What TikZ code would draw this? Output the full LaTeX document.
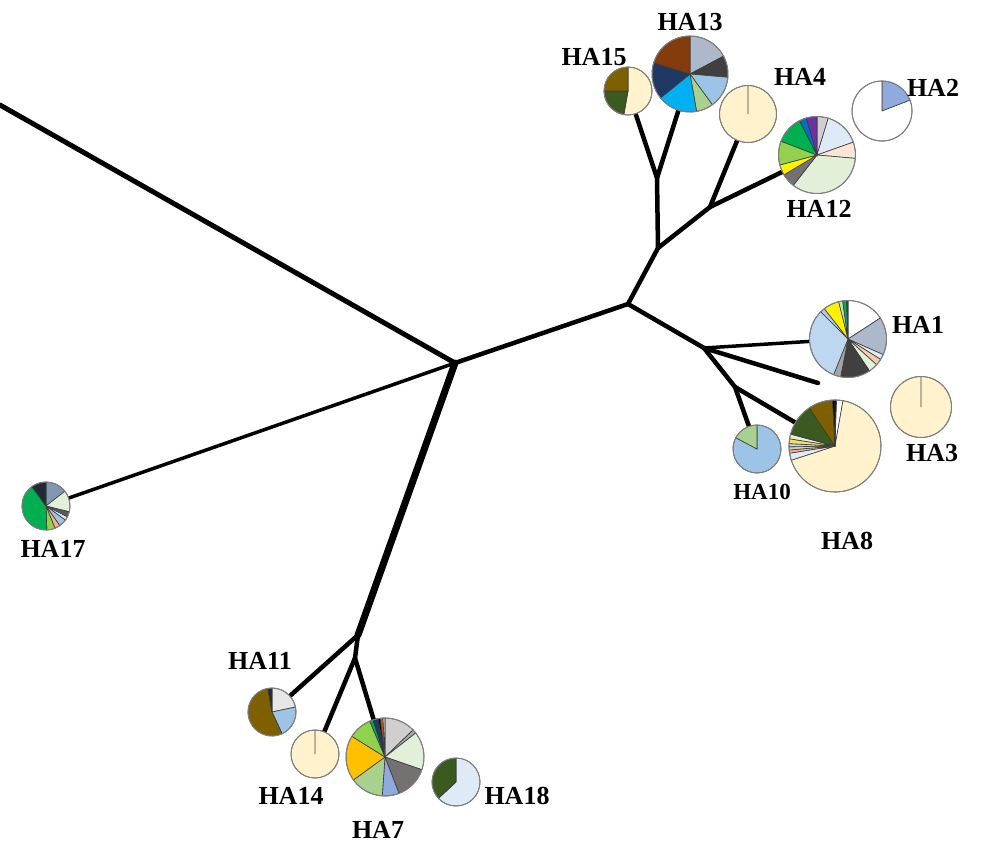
\documentclass[tikz,border=0pt]{standalone}
\usepackage{fontspec}
\setmainfont{Liberation Serif}
\usetikzlibrary{positioning, calc}

\definecolor{cream}{HTML}{FFF2CC}
\definecolor{olive}{HTML}{7F6000}
\definecolor{dkgreen}{HTML}{3B5A1F}
\definecolor{bgray}{HTML}{ADB9CA}
\definecolor{dgray}{HTML}{404040}
\definecolor{lblue}{HTML}{9DC3E6}
\definecolor{lgreen}{HTML}{A9D18E}
\definecolor{cyanb}{HTML}{00B0F0}
\definecolor{navy}{HTML}{203864}
\definecolor{rust}{HTML}{843C0C}
\definecolor{pblue}{HTML}{8FAADC}
\definecolor{lgray}{HTML}{D0CECE}
\definecolor{paleblue}{HTML}{DEEBF7}
\definecolor{peach}{HTML}{FBE5D6}
\definecolor{peachb}{HTML}{F8CBAD}
\definecolor{peachc}{HTML}{F4B183}
\definecolor{palegreen}{HTML}{E2F0D9}
\definecolor{mgray}{HTML}{767171}
\definecolor{ygreen}{HTML}{92D050}
\definecolor{vgreen}{HTML}{00B050}
\definecolor{dblue}{HTML}{0070C0}
\definecolor{violet}{HTML}{7030A0}
\definecolor{sblue}{HTML}{BDD7EE}
\definecolor{tblue}{HTML}{B4C7E7}
\definecolor{ggray}{HTML}{A5A5A5}
\definecolor{gold}{HTML}{FFC000}
\definecolor{goldb}{HTML}{FFD966}
\definecolor{slate}{HTML}{8497B0}
\definecolor{dnavy}{HTML}{222A35}
\definecolor{pgray}{HTML}{E7E6E6}
\definecolor{sgray}{HTML}{595959}
\definecolor{paleolive}{HTML}{C5E0B4}
\definecolor{orng}{HTML}{C55A11}
\definecolor{sep}{HTML}{3A3A3A}
\definecolor{rimgray}{HTML}{808080}

\newcommand{\drawpie}[3]{%
  \foreach \s/\e/\col in {#3}
    \filldraw[slice, fill=\col] (#1.center) -- ++(\s:#2) arc[start angle=\s, end angle=\e, radius=#2] -- cycle;
  \draw[rim] (#1.center) circle[radius=#2];
}

\begin{document}
\begin{tikzpicture}[x=1pt, y=-1pt,
    branch/.style={line width=4.5pt, line cap=round, line join=round},
    trunk/.style={line width=7pt, line cap=round},
    twig/.style={line width=3.5pt, line cap=round},
    pie/.style={circle, inner sep=0pt, minimum size=#1},
    slice/.style={draw=sep, line width=0.6pt},
    rim/.style={draw=rimgray, line width=1pt},
    lbl/.style={inner sep=0pt, font=\fontsize{26}{30}\selectfont\bfseries}
  ]
  \useasboundingbox (0,0) rectangle (983,844);

  % junctions
  \coordinate (top) at (0,105);
  \coordinate (c0) at (455,363);
  \coordinate (jLow) at (358,635);
  \coordinate (jLow2) at (355,658);
  \coordinate (jR) at (628,304);
  \coordinate (jU) at (658,248);
  \coordinate (jU2) at (657,178);
  \coordinate (jU3) at (710,207);
  \coordinate (jD) at (704,348);
  \coordinate (jD2) at (735,387);
  \coordinate (end3) at (818,383);

  % pies
  \node[pie=48pt] (HA15) at (628,91) {};
  \node[pie=76pt] (HA13) at (690,74) {};
  \node[pie=57pt] (HA4) at (748,114) {};
  \node[pie=60pt] (HA2) at (882,111) {};
  \node[pie=77pt] (HA12) at (817,155) {};
  \node[pie=77pt] (HA1) at (848,339) {};
  \node[pie=61pt] (HA3) at (921,407) {};
  \node[pie=92pt] (HA8) at (835,446) {};
  \node[pie=48pt] (HA10) at (757,449) {};
  \node[pie=48pt] (HA17) at (46,506) {};
  \node[pie=48pt] (HA11) at (272,712) {};
  \node[pie=48pt] (HA14) at (315,754) {};
  \node[pie=78pt] (HA7) at (385,757) {};
  \node[pie=48pt] (HA18) at (456,782) {};

  % branches
  \draw[branch, line width=5pt] (top) -- (c0);
  \draw[twig] (c0) -- (HA17);
  \draw[trunk] (c0) -- (jLow);
  \draw[branch] (jLow) -- (HA11);
  \draw[branch] (jLow) -- (jLow2) -- (HA14);
  \draw[branch] (jLow2) -- (HA7);
  \draw[branch] (c0) -- (jR);
  \draw[branch] (jR) -- (jU) -- (jU2) -- (HA15);
  \draw[branch] (jU2) -- (HA13);
  \draw[branch] (jU) -- (jU3) -- (HA4);
  \draw[branch] (jU3) -- (HA12);
  \draw[branch] (jR) -- (jD);
  \draw[twig] (jD) -- (HA1);
  \draw[branch] (jD) -- (end3);
  \draw[branch] (jD) -- (jD2) -- (HA10);
  \draw[branch] (jD2) -- (HA8);

  % slices
  \drawpie{HA15}{24pt}{90/-100/cream, -100/-180/dkgreen, -180/-270/olive}
  \drawpie{HA13}{38pt}{90/28/bgray, 28/-5/dgray, -5/-54/lblue, -54/-80/lgreen,
    -80/-141/cyanb, -141/-197/navy, -197/-270/rust}
  \drawpie{HA4}{28.5pt}{90/-270/cream}
  \drawpie{HA2}{30pt}{90/21/pblue, 21/-270/white}
  \drawpie{HA12}{38.5pt}{90/73/lgray, 73/19.5/paleblue, 19.5/-5/peach, -5/-128/palegreen,
    -128/-149/mgray, -149/-165/yellow, -165/-201/ygreen, -201/-243/vgreen,
    -243/-254/dblue, -254/-270/violet}
  \drawpie{HA1}{38.5pt}{90/33/white, 33/-24/bgray, -24/-32/paleblue, -32/-42/peachb,
    -42/-56/palegreen, -56/-101/dgray, -101/-112/ggray, -112/-225/sblue,
    -225/-232/tblue, -232/-256/yellow, -256/-262/paleolive, -262/-268/vgreen, -268/-270/dgray}
  \drawpie{HA3}{30.5pt}{90/-270/cream}
  \drawpie{HA8}{46pt}{90/88/black, 88/80/white, 80/-162/cream, -162/-171/paleblue,
    -171/-175/peachc, -175/-179/lgray, -179/-183/sblue, -183/-189/goldb,
    -189/-195/palegreen, -195/-236/dkgreen, -236/-267/olive, -267/-270/black}
  \drawpie{HA10}{24pt}{90/-208/lblue, -208/-270/lgreen}
  \drawpie{HA17}{24pt}{90/38/slate, 38/-14/palegreen, -14/-27/sgray, -27/-36/paleblue,
    -36/-55/lblue, -55/-68/peachc, -68/-88/ygreen, -88/-234/vgreen, -234/-270/dnavy}
  \drawpie{HA11}{24pt}{90/12/pgray, 12/-65/lblue, -65/-260/olive, -260/-270/dnavy}
  \drawpie{HA14}{24pt}{90/-270/cream}
  \drawpie{HA7}{39pt}{90/44/lgray, 44/38/ggray, 38/-19/palegreen, -19/-69/mgray,
    -69/-94/pblue, -94/-144/lgreen, -144/-212/gold, -212/-247/ygreen,
    -247/-252/vgreen, -252/-260/navy, -260/-263/black, -263/-267/orng, -267/-270/lgray}
  \drawpie{HA18}{24pt}{90/-137/paleblue, -137/-270/dkgreen}

  % labels
  \node[lbl] (l15) at (594,57) {HA15};
  \node[lbl] (l13) at (690,22) {HA13};
  \node[lbl] (l4) at (800,77) {HA4};
  \node[lbl] (l2) at (933,88) {HA2};
  \node[lbl] (l12) at (819,209) {HA12};
  \node[lbl] (l1) at (918,325) {HA1};
  \node[lbl] (l3) at (932,453) {HA3};
  \node[lbl, font=\fontsize{23}{27}\selectfont\bfseries] (l10) at (762,492) {HA10};
  \node[lbl] (l8) at (847,541) {HA8};
  \node[lbl] (l17) at (53,549) {HA17};
  \node[lbl] (l11) at (260,661) {HA11};
  \node[lbl] (l14) at (291,796) {HA14};
  \node[lbl] (l7) at (378,830) {HA7};
  \node[lbl] (l18) at (517,796) {HA18};
\end{tikzpicture}
\end{document}
